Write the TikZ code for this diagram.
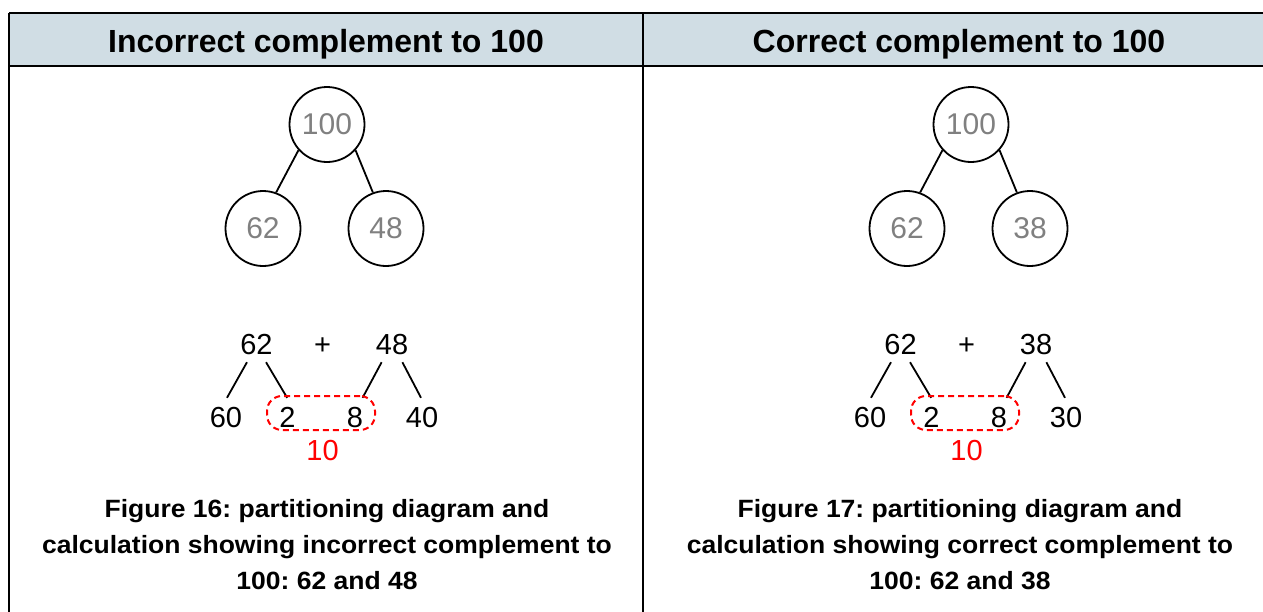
\documentclass[tikz,border=0pt]{standalone}
\usepackage{fontspec}
\setmainfont{Liberation Sans}
\newfontfamily\capfont[FakeStretch=1.06]{Liberation Sans}
\usetikzlibrary{positioning}
\definecolor{headfill}{RGB}{208,221,228}
\definecolor{numgray}{RGB}{128,128,128}
\tikzset{
  rule/.style={line width=2pt,black},
  bubble/.style={circle,draw,line width=1.8pt,minimum size=75pt,inner sep=0pt,text=numgray,font=\fontsize{30}{30}\selectfont},
  digit/.style={inner xsep=0pt,inner ysep=8pt,text height=21pt,text depth=0pt,font=\fontsize{29}{29}\selectfont},
  link/.style={line width=1.8pt},
  tenbox/.style={draw=red,dash pattern=on 6pt off 4pt,line width=2pt,rounded corners=15pt,minimum width=108pt,minimum height=34pt,inner sep=0pt},
  headtxt/.style={font=\bfseries\fontsize{32}{36}\selectfont},
  captxt/.style={font=\capfont\bfseries\fontsize{25}{36}\selectfont\frenchspacing,align=center}
}
\begin{document}
\frenchspacing
\begin{tikzpicture}[x=1pt,y=-1pt]
\useasboundingbox (0,0) rectangle (1263,611);
% table
\fill[headfill] (9,13) rectangle (1275,66);
\draw[rule] (9,13) -- (1275,13);
\draw[rule] (9,66) -- (1275,66);
\draw[rule] (9,13) -- (9,620);
\draw[rule] (643,13) -- (643,620);
% headings
\node[headtxt,anchor=base] (headL) at (326,52) {Incorrect complement to 100};
\node[headtxt,anchor=base] (headR) at (959,52) {Correct complement to 100};
% partitioning diagrams
\foreach \s/\dx/\p/\q in {L/0/48/40,R/644/38/30}{
\begin{scope}[xshift=\dx]
  \node[bubble] (top\s) at (327,124.5) {100};
  \node[bubble] (left\s) at (263,228.5) {62};
  \node[bubble] (right\s) at (386,228.5) {\p};
  \draw[link] (top\s.222) -- (left\s.70);
  \draw[link] (top\s.318) -- (right\s.110);
  % calculation
  \node[digit] (a\s) at (256.5,343.5) {62};
  \node[digit] (plus\s) at (322.5,343.5) {+};
  \node[digit] (b\s) at (392,343.5) {\p};
  \node[digit] (tens\s) at (226,416.5) {60};
  \node[digit] (ones\s) at (287.5,416.5) {2};
  \node[digit] (eight\s) at (355,416.5) {8};
  \node[digit] (rest\s) at (422,416.5) {\q};
  \draw[link] (a\s.-117) -- (tens\s.87);
  \draw[link] (a\s.-63) -- (ones\s.91);
  \draw[link] (b\s.-119) -- (eight\s.68);
  \draw[link] (b\s.-61) -- (rest\s.93);
  \node[tenbox] (pair\s) at (321,413) {};
  \node[digit,text=red] (ten\s) at (322.5,450) {10};
\end{scope}
}
% captions
\node[captxt] (capL) at (327,545) {Figure 16: partitioning diagram and\\calculation showing incorrect complement to\\100: 62 and 48};
\node[captxt] (capR) at (960,545) {Figure 17: partitioning diagram and\\calculation showing correct complement to\\100: 62 and 38};
\end{tikzpicture}
\end{document}
